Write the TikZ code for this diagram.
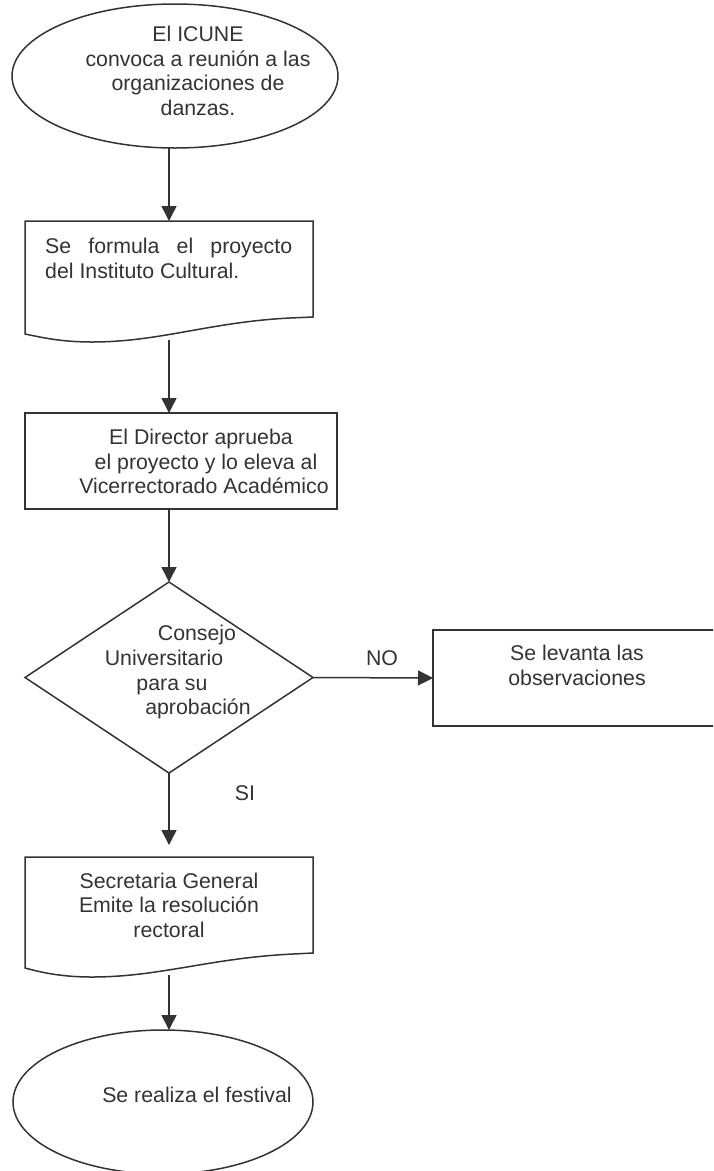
\documentclass[tikz,border=0pt]{standalone}
\usepackage{fontspec}
\setmainfont{Liberation Sans}
\usetikzlibrary{shapes.geometric,arrows.meta}
\definecolor{lc}{HTML}{333333}
\definecolor{tc}{HTML}{333333}
\begin{document}
\begin{tikzpicture}[x=1pt,y=-1pt,
  line/.style={draw=lc,line width=1.5pt},
  arr/.style={line,-{Triangle[length=15pt,width=15pt]}},
  shp/.style={line,inner sep=0pt,outer sep=0pt},
  ghost/.style={inner sep=0pt,outer sep=0pt},
  txt/.style={text=tc,font=\fontsize{21.3}{24.5}\selectfont,inner sep=0pt,anchor=base},
]
\useasboundingbox (0,0) rectangle (713,1171);
\clip (0,0) rectangle (713,1171);

% shapes
\node[shp,ellipse,minimum width=326pt,minimum height=144pt] (e1) at (175,76) {};
\node[ghost,minimum width=288pt,minimum height=113pt] (doc1) at (169,277.5) {};
\draw[line,line join=miter] (25,221) -- (313,221) -- (313,317) -- (290,318)
  .. controls (210,322) and (160,342) .. (92,342)
  .. controls (60,342) and (40,337) .. (25,334) -- cycle;
\coordinate (d1b) at (169,340);
\node[shp,rectangle,minimum width=312pt,minimum height=96pt] (box2) at (181,461) {};
\node[shp,diamond,minimum width=288pt,minimum height=191pt] (dec) at (169,677.5) {};
\node[shp,rectangle,minimum width=300pt,minimum height=96pt] (rbox) at (583,678) {};
\node[ghost,minimum width=288pt,minimum height=120pt] (doc2) at (169,917) {};
\draw[line,line join=miter] (25,857) -- (313,857) -- (313,953) -- (293,954)
  .. controls (210,958) and (160,977) .. (92,977)
  .. controls (60,977) and (40,972) .. (25,968) -- cycle;
\coordinate (d2b) at (169,975);
\node[shp,ellipse,minimum width=300pt,minimum height=144pt] (e2) at (163,1102) {};

% connectors
\draw[arr] (doc1.north |- e1.south) -- (doc1.north);
\draw[arr] (d1b) -- (d1b |- box2.north);
\draw[arr] (box2.south -| dec.north) -- (dec.north);
\draw[arr] (dec.east) -- (rbox.west);
\draw[arr,shorten >=12pt] (dec.south) -- (doc2.north);
\draw[arr] (d2b) -- (d2b |- e2.north);

% texts
\node[txt,align=center] (t1) at (198,115) {El ICUNE\\convoca a reunión a las\\organizaciones de\\danzas.};
\node[txt,anchor=base west] (t2a) at (45,253) {\makebox[247pt][s]{Se formula el proyecto}};
\node[txt,anchor=base west] (t2b) at (45,278) {del Instituto Cultural.};
\node[txt] (t3a) at (201,444) {El Director aprueba};
\node[txt] (t3b) at (206,469) {el proyecto y lo eleva al};
\node[txt] (t3c) at (204,493) {Vicerrectorado Académico};
\node[txt] (t4a) at (197,640) {Consejo};
\node[txt] (t4b) at (164,665) {Universitario};
\node[txt] (t4c) at (172,690) {para su};
\node[txt] (t4d) at (198,714) {aprobación};
\node[txt] (t5a) at (577,660) {Se levanta las};
\node[txt] (t5b) at (577,685) {observaciones};
\node[txt] (no) at (382,665) {NO};
\node[txt] (si) at (245,800) {SI};
\node[txt,align=center] (t6) at (169,937) {Secretaria General\\Emite la resolución\\rectoral};
\node[txt] (t7) at (197,1102) {Se realiza el festival};
\end{tikzpicture}
\end{document}
